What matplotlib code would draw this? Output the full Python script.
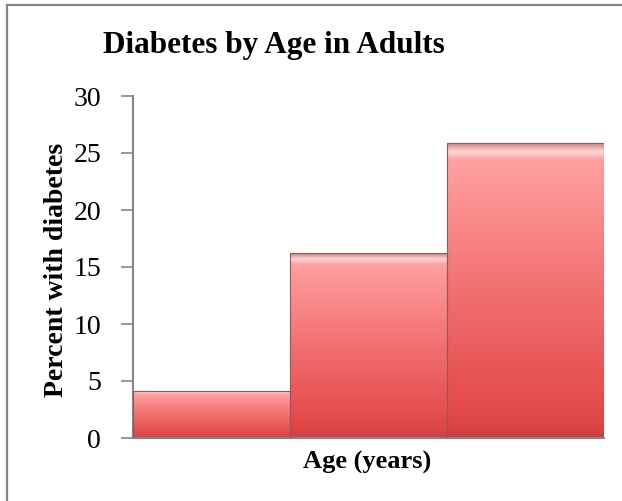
import matplotlib
matplotlib.use("Agg")
import matplotlib.pyplot as plt
import numpy as np
from matplotlib.colors import LinearSegmentedColormap
from matplotlib.lines import Line2D

categories = ["18-44", "45-64", "65+"]
values = [4.1, 16.2, 25.9]
yticks = [0, 5, 10, 15, 20, 25, 30]

title = "Diabetes by Age in Adults"
xlabel = "Age (years)"
ylabel = "Percent with diabetes"

W, H = 622, 501
fig = plt.figure(figsize=(W / 100, H / 100), dpi=100)
fig.patch.set_facecolor("white")

ax = fig.add_axes([133 / W, 1 - 438 / H, (604 - 133) / W, (438 - 96) / H])

serif = ["Liberation Serif", "DejaVu Serif"]

x = np.arange(len(categories))
bars = ax.bar(x, values, width=1.0, color="none", edgecolor="#9a5555", linewidth=0.8, zorder=3)

cmap = LinearSegmentedColormap.from_list(
    "redgrad", [(0.0, "#c84040"), (0.04, "#dd4545"), (0.15, "#e54f4f"), (0.6, "#f57a7a"),
                (0.94, "#ffa0a0"), (0.97, "#ffd6d6"), (1.0, "#c98080")]
)
grad = np.linspace(0, 1, 256).reshape(-1, 1)
for b in bars:
    x0, w, h = b.get_x(), b.get_width(), b.get_height()
    im = ax.imshow(grad, extent=(x0, x0 + w, 0, h), origin="lower", aspect="auto",
                   cmap=cmap, zorder=2, interpolation="bicubic")
    im.set_clip_path(b)

ax.set_xlim(-0.5, len(categories) - 0.5)
ax.set_ylim(0, 30)
ax.set_yticks(yticks)
ax.set_xticks([])
for s in ["top", "right"]:
    ax.spines[s].set_visible(False)
for s in ["left", "bottom"]:
    ax.spines[s].set_color("#868686")
    ax.spines[s].set_linewidth(1.5)
ax.tick_params(axis="y", direction="out", length=9, width=1.2, color="#868686", pad=14,
               labelsize=20)
for lab in ax.get_yticklabels():
    lab.set_fontfamily(serif)

fig.text(367 / W, 1 - 462 / H, xlabel, ha="center", va="center",
         fontsize=19, fontweight="bold", family=serif)
fig.text(57 / W, 1 - 270 / H, ylabel, rotation=90, ha="center", va="center",
         fontsize=20, fontweight="bold", family=serif)
fig.text(274 / W, 1 - 45 / H, title, ha="center", va="center", fontsize=22.5,
         fontweight="bold", family=serif)

fig.add_artist(Line2D([6.5 / W, 6.5 / W], [0, 1 - 5 / H], transform=fig.transFigure,
                      color="#868686", linewidth=1.6))
fig.add_artist(Line2D([6.5 / W, 1], [1 - 5 / H, 1 - 5 / H], transform=fig.transFigure,
                      color="#868686", linewidth=1.6))

fig.savefig("out.png", dpi=100)
